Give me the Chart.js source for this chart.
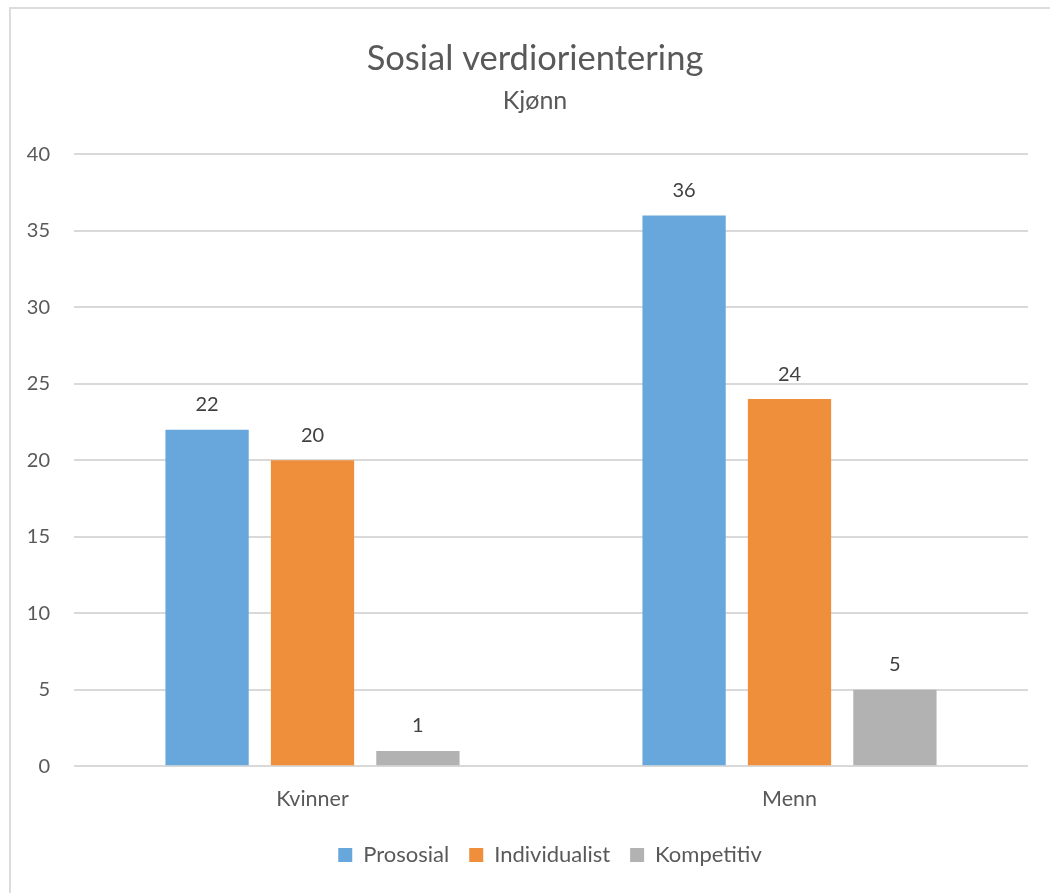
<!DOCTYPE html>
<html>
<head>
<meta charset="utf-8">
<script src="https://cdn.jsdelivr.net/npm/chart.js@4/dist/chart.umd.min.js"></script>
<style>
html,body{margin:0;padding:0;background:#fff;}
#wrap{width:1050px;height:893px;}
</style>
</head>
<body>
<div id="wrap"><canvas id="barChart"></canvas></div>
<script>
const categories = ['Kvinner', 'Menn'];
const prososial = [22, 36];
const individualist = [20, 24];
const kompetitiv = [1, 5];
const yTicks = [0, 5, 10, 15, 20, 25, 30, 35, 40];

const font = 'Lato, "Open Sans", sans-serif';
const textColor = '#595959';

// frame lines along the left and top edge
const framePlugin = {
  id: 'frame',
  beforeDraw(chart){
    const ctx = chart.ctx;
    ctx.save();
    ctx.fillStyle = '#fff';
    ctx.fillRect(0, 0, chart.width, chart.height);
    ctx.strokeStyle = '#dcdcdc';
    ctx.lineWidth = 2;
    ctx.beginPath();
    ctx.moveTo(10, chart.height);
    ctx.lineTo(10, 8);
    ctx.lineTo(chart.width, 8);
    ctx.stroke();
    ctx.restore();
  }
};

// nudge title, subtitle and legend so they sit centred a bit further right
const headingShift = {
  id: 'headingShift',
  afterLayout(chart){
    chart.boxes.forEach(b => {
      if (b.position === 'top' && b.options && b.options.text !== undefined) {
        b.left += 42;
      }
    });
    if (chart.legend) chart.legend.left += 72;
  }
};

// value written above each bar
const valueLabels = {
  id: 'valueLabels',
  afterDatasetsDraw(chart){
    const ctx = chart.ctx;
    ctx.save();
    ctx.font = '20px ' + font;
    ctx.fillStyle = '#404040';
    ctx.textAlign = 'center';
    ctx.textBaseline = 'middle';
    chart.data.datasets.forEach((ds, i) => {
      chart.getDatasetMeta(i).data.forEach((bar, j) => {
        ctx.fillText(ds.data[j], bar.x, bar.y - 25);
      });
    });
    ctx.restore();
  }
};

new Chart(document.getElementById('barChart'), {
  type: 'bar',
  data: {
    labels: categories,
    datasets: [
      {label: 'Prososial', data: prososial, backgroundColor: '#68A7DB'},
      {label: 'Individualist', data: individualist, backgroundColor: '#EF8F3C'},
      {label: 'Kompetitiv', data: kompetitiv, backgroundColor: '#B2B2B2'}
    ]
  },
  options: {
    responsive: true,
    maintainAspectRatio: false,
    animation: false,
    categoryPercentage: 0.663,
    barPercentage: 0.79,
    layout: {padding: {left: 0, right: 22, top: 38, bottom: 17}},
    plugins: {
      tooltip: {enabled: false},
      title: {
        display: true,
        text: 'Sosial verdiorientering',
        color: textColor,
        font: {family: font, size: 34.5, weight: 'normal'},
        padding: {top: 0, bottom: 7}
      },
      subtitle: {
        display: true,
        text: 'Kjønn',
        color: textColor,
        font: {family: font, size: 25, weight: 'normal'},
        padding: {top: 0, bottom: 38}
      },
      legend: {
        position: 'bottom',
        labels: {
          color: textColor,
          font: {family: font, size: 22},
          boxWidth: 14,
          boxHeight: 14,
          padding: 20
        }
      }
    },
    scales: {
      x: {
        grid: {display: false},
        border: {display: false},
        ticks: {color: textColor, font: {family: font, size: 21.5}, padding: 12}
      },
      y: {
        min: 0,
        max: 40,
        afterBuildTicks(axis){ axis.ticks = yTicks.map(v => ({value: v})); },
        afterFit(axis){ axis.width = 74; },
        grid: {color: '#d9d9d9', lineWidth: 2, drawTicks: false},
        border: {display: false},
        ticks: {color: textColor, font: {family: font, size: 20}, padding: 24}
      }
    }
  },
  plugins: [framePlugin, headingShift, valueLabels]
});
</script>
</body>
</html>
